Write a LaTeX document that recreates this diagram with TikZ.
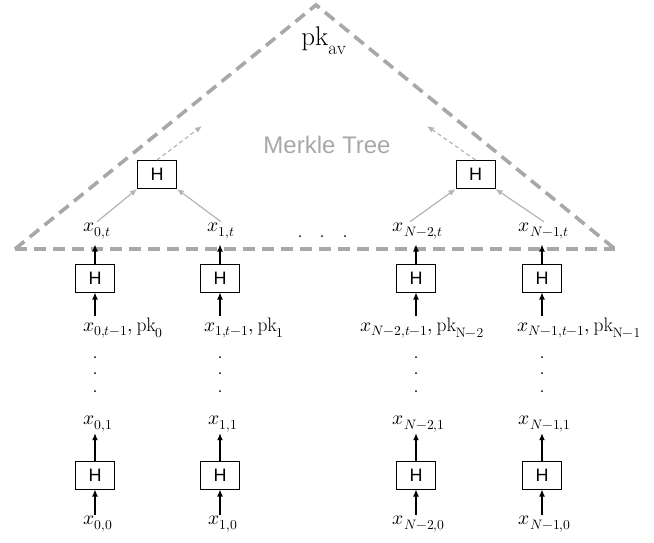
\documentclass[tikz,border=0pt]{standalone}
\usepackage{fontspec}
\usepackage{unicode-math}
\setmathfont{Latin Modern Math}
\newfontfamily\arialf{Liberation Sans}
\usetikzlibrary{arrows.meta}
\definecolor{dashgray}{HTML}{A8A8A8}
\definecolor{arrgray}{HTML}{B4B4B4}
\begin{document}
\begin{tikzpicture}[x=1pt,y=-1pt,
  hbox/.style={draw=black,line width=1pt,minimum width=39pt,minimum height=28pt,inner sep=0pt,font=\arialf\fontsize{18}{20}\selectfont},
  lbl/.style={inner sep=1pt,font=\fontsize{19.5}{21}\selectfont},
  arr/.style={line width=1.1pt,-{Latex[length=7pt,width=6pt]}},
  garr/.style={draw=arrgray,line width=1.2pt,-{Latex[length=7pt,width=6pt]}},
  gdarr/.style={draw=arrgray,line width=1.2pt,dash pattern=on 4pt off 3pt,-{Latex[length=7pt,width=6pt]}},
  bigdash/.style={draw=dashgray,line width=3.6pt,dash pattern=on 12pt off 7pt},
  vdot/.style={circle,fill=black,inner sep=0pt,minimum size=2pt}]
\useasboundingbox (0,0) rectangle (654,542);
% Merkle tree triangle
\coordinate (tl) at (15,249);
\coordinate (ta) at (316,5);
\coordinate (tr) at (615,249);
\draw[bigdash] (tl) -- (ta) -- (tr);
\draw[bigdash] (tl) -- (tr);
\node[font=\fontsize{27}{29}\selectfont] (pkav) at (324,41) {$\mathrm{pk}_{\mathrm{av}}$};
\node[font=\arialf\fontsize{24}{26}\selectfont,text=dashgray] (mt) at (327,145) {Merkle Tree};
% top hash boxes
\node[hbox] (ht0) at (157,174.5) {H};
\node[hbox] (ht1) at (475.5,174.5) {H};
\coordinate (dt0) at (202,126);
\coordinate (dt1) at (427,126);
% labels x_{i,t}
\node[lbl] (xt0) at (97,231) {$x_{0,t}$};
\node[lbl] (xt1) at (221,231) {$x_{1,t}$};
\node[lbl] (xt2) at (418,231) {$x_{N-2,t}$};
\node[lbl] (xt3) at (544,231) {$x_{N-1,t}$};
\node[vdot] (hd1) at (300,236) {};
\node[vdot] (hd2) at (322,236) {};
\node[vdot] (hd3) at (345,236) {};
\draw[garr] (xt0.north) -- (ht0.south west);
\draw[garr] (xt1.north) -- (ht0.south east);
\draw[garr] ([xshift=-8pt]xt2.north) -- (ht1.south west);
\draw[garr] (xt3.north) -- (ht1.south east);
\draw[gdarr] (ht0.north) -- (dt0);
\draw[gdarr] (ht1.north) -- (dt1);
% columns
\foreach \i/\cx/\lx/\lab/\xa/\xb in {0/95/82/{x_{0,t-1}, \mathrm{pk}_0}/{x_{0,1}}/{x_{0,0}},
                                     1/220/203/{x_{1,t-1}, \mathrm{pk}_1}/{x_{1,1}}/{x_{1,0}},
                                     2/416/359/{x_{N-2,t-1}, \mathrm{pk}_{\mathrm{N-2}}}/{x_{N-2,1}}/{x_{N-2,0}},
                                     3/542/516/{x_{N-1,t-1}, \mathrm{pk}_{\mathrm{N-1}}}/{x_{N-1,1}}/{x_{N-1,0}}}{
  \node[hbox] (hm\i) at (\cx,278) {H};
  \node[lbl,anchor=west] (lm\i) at (\lx,328) {$\lab$};
  \node[vdot] (da\i) at (\cx,357) {};
  \node[vdot] (db\i) at (\cx,373) {};
  \node[vdot] (dc\i) at (\cx,391) {};
  \node[lbl] (xa\i) at (\cx+3,424) {$\xa$};
  \node[hbox] (hb\i) at (\cx,475) {H};
  \node[lbl] (xb\i) at (\cx+3,524) {$\xb$};
  \draw[arr] (hm\i.north) -- ++(0,-19);
  \draw[arr] (hm\i.south |- lm\i.north) -- (hm\i.south);
  \draw[arr] (hb\i.north) -- (hb\i.north |- xa\i.south);
  \draw[arr] (hb\i.south |- xb\i.north) -- (hb\i.south);
}
\end{tikzpicture}
\end{document}
